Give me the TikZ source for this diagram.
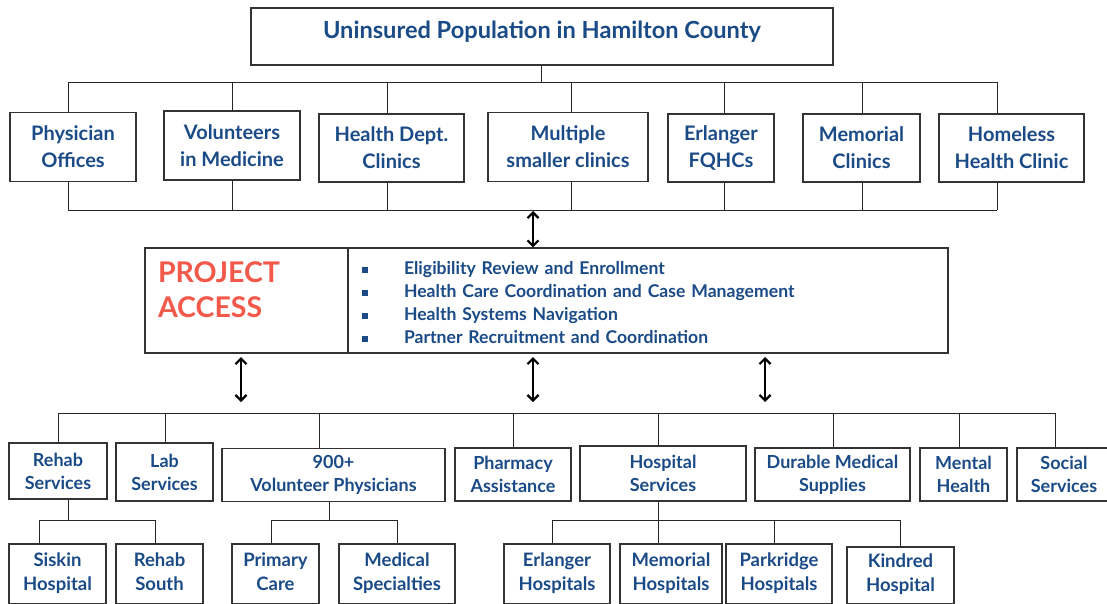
\documentclass[tikz,border=0pt]{standalone}
\usepackage{fontspec}
\setmainfont{Lato}
\usetikzlibrary{arrows.meta}
\definecolor{txt}{HTML}{1B4B87}
\definecolor{pared}{HTML}{F2594B}
\newcommand{\sqbul}{\makebox[42pt][l]{\raisebox{2pt}{\rule{5.5pt}{5.5pt}}}}
\begin{document}
\begin{tikzpicture}[x=1pt,y=-1pt,
  ln/.style={draw=black!85, line width=0.9pt},
  box/.style={draw=black!80, line width=1.2pt, text=txt, align=center, inner sep=0pt, fill=white},
  fA/.style={font=\bfseries\fontsize{20}{27}\selectfont},
  fB/.style={font=\bfseries\fontsize{18}{23}\selectfont},
  fC/.style={font=\bfseries\fontsize{18.5}{24}\selectfont},
  dbl/.style={draw=black, line width=2.2pt, {Straight Barb[length=5.5pt,width=11pt,line width=2.2pt]}-{Straight Barb[length=5.5pt,width=11pt,line width=2.2pt]}}]
\clip (0,0) rectangle (1107,603);
\fill[white] (0,0) rectangle (1107,603);
% top
\node[box, minimum width=582, minimum height=57, font=\bfseries\fontsize{23.6}{27}\selectfont, text depth=14pt] (top) at (542,36.5) {Uninsured Population in Hamilton County};
\coordinate (tj) at (541,82);
\draw[ln] (top.south -| tj) -- (tj);
% row 1
\node[box,fA, minimum width=126, minimum height=69] (po)  at (73,147)    {Physician\\Offices};
\node[box,fA, minimum width=136, minimum height=69] (vim) at (232,145.5) {Volunteers\\in Medicine};
\node[box,fA, minimum width=145, minimum height=68] (hdc) at (391.5,148) {Health Dept.\\Clinics};
\node[box,fA, minimum width=160, minimum height=69] (msc) at (568,147)   {Multiple\\smaller clinics};
\node[box,fA, minimum width=106, minimum height=68] (efq) at (721,148)   {Erlanger\\FQHCs};
\node[box,fA, minimum width=117, minimum height=68] (mc)  at (861.5,148) {Memorial\\Clinics};
\node[box,fA, minimum width=145, minimum height=68] (hhc) at (1011.5,148) {Homeless\\Health Clinic};
\coordinate (busTL) at (68,82);
\coordinate (busTR) at (997,82);
\draw[ln] (busTL) -- (busTR);
\coordinate (busBL) at (68,210);
\coordinate (busBR) at (997,210);
\draw[ln] (busBL) -- (busBR);
\foreach \x/\n in {68/po,232/vim,387/hdc,571/msc,724/efq,862/mc,997/hhc}{
  \coordinate (ta) at (\x,82);
  \coordinate (tb) at (\x,210);
  \draw[ln] (ta) -- (ta |- \n.north);
  \draw[ln] (\n.south -| tb) -- (tb);
}
% project access
\node[box, minimum width=203, minimum height=105, text width=177, align=left, inner xsep=13pt, text=pared, font=\bfseries\fontsize{28.5}{35}\selectfont, text depth=56pt] (paL) at (246.5,300.5) {PROJECT\\ACCESS};
\node[box, minimum width=600, minimum height=105, text width=572, align=left, inner xsep=14pt, font=\bfseries\fontsize{17.6}{23}\selectfont, text depth=65pt] (paR) at (648,300.5)
{\sqbul Eligibility Review and Enrollment\\
 \sqbul Health Care Coordination and Case Management\\
 \sqbul Health Systems Navigation\\
 \sqbul Partner Recruitment and Coordination};
\coordinate (mid) at (533,211);
\draw[dbl] (mid) -- (mid |- paR.north);
\coordinate (a1t) at (241,357); \coordinate (a1b) at (241,402);
\coordinate (a2t) at (533,357); \coordinate (a2b) at (533,402);
\coordinate (a3t) at (765,357); \coordinate (a3b) at (765,402);
\draw[dbl] (a1t) -- (a1b);
\draw[dbl] (a2t) -- (a2b);
\draw[dbl] (a3t) -- (a3b);
% row 2
\node[box,fB, minimum width=98,  minimum height=56] (rs)  at (58,471)    {Rehab\\Services};
\node[box,fB, minimum width=97,  minimum height=58] (ls)  at (164.5,472) {Lab\\Services};
\node[box,fB, minimum width=223, minimum height=53] (vp)  at (333.5,475) {900+\\Volunteer Physicians};
\node[box,fB, minimum width=116, minimum height=53] (pha) at (513,474.5) {Pharmacy\\Assistance};
\node[box,fB, minimum width=166, minimum height=55] (hs)  at (663,473.5) {Hospital\\Services};
\node[box,fB, minimum width=155, minimum height=53] (dms) at (832.5,474.5) {Durable Medical\\Supplies};
\node[box,fB, minimum width=87,  minimum height=53] (mh)  at (963.5,474.5) {Mental\\Health};
\node[box,fB, minimum width=94,  minimum height=53] (ss)  at (1064,474.5) {Social\\Services};
\coordinate (busCL) at (58,413);
\coordinate (busCR) at (1055,413);
\draw[ln] (busCL) -- (busCR);
\foreach \x/\n in {58/rs,165/ls,319/vp,513/pha,658/hs,833/dms,959/mh,1055/ss}{
  \coordinate (tc) at (\x,413);
  \draw[ln] (tc) -- (tc |- \n.north);
}
% row 3
\node[box,fC, minimum width=97,  minimum height=60, text depth=5pt] (sk)   at (57.5,574)  {Siskin\\Hospital};
\node[box,fC, minimum width=87,  minimum height=60, text depth=5pt] (rso)  at (159.5,574) {Rehab\\South};
\node[box,fC, minimum width=87,  minimum height=60, text depth=5pt] (pc)   at (275.5,574) {Primary\\Care};
\node[box,fC, minimum width=116, minimum height=60, text depth=5pt] (med)  at (397,574)   {Medical\\Specialties};
\node[box,fC, minimum width=106, minimum height=60, text depth=5pt] (eh)   at (557,574)   {Erlanger\\Hospitals};
\node[box,fC, minimum width=102, minimum height=60, text depth=5pt] (mhos) at (671,574)   {Memorial\\Hospitals};
\node[box,fC, minimum width=106, minimum height=60, text depth=5pt] (ph)   at (779,574)   {Parkridge\\Hospitals};
\node[box,fC, minimum width=107, minimum height=57, text depth=5pt] (kh)   at (900.5,575.5) {Kindred\\Hospital};
% subtrees
\coordinate (s1) at (68,520);
\draw[ln] (rs.south -| s1) -- (s1);
\coordinate (s1a) at (39,520); \coordinate (s1b) at (155,520);
\draw[ln] (s1a) -- (s1b);
\draw[ln] (s1a) -- (s1a |- sk.north);
\draw[ln] (s1b) -- (s1b |- rso.north);
\coordinate (s2) at (329,520);
\draw[ln] (vp.south -| s2) -- (s2);
\coordinate (s2a) at (271,520); \coordinate (s2b) at (397,520);
\draw[ln] (s2a) -- (s2b);
\draw[ln] (s2a) -- (s2a |- pc.north);
\draw[ln] (s2b) -- (s2b |- med.north);
\coordinate (s3) at (658,520);
\draw[ln] (hs.south -| s3) -- (s3);
\coordinate (s3a) at (552,520); \coordinate (s3c) at (774,520); \coordinate (s3d) at (900,520);
\draw[ln] (s3a) -- (s3d);
\draw[ln] (s3a) -- (s3a |- eh.north);
\draw[ln] (s3) -- (s3 |- mhos.north);
\draw[ln] (s3c) -- (s3c |- ph.north);
\draw[ln] (s3d) -- (s3d |- kh.north);
\end{tikzpicture}
\end{document}
